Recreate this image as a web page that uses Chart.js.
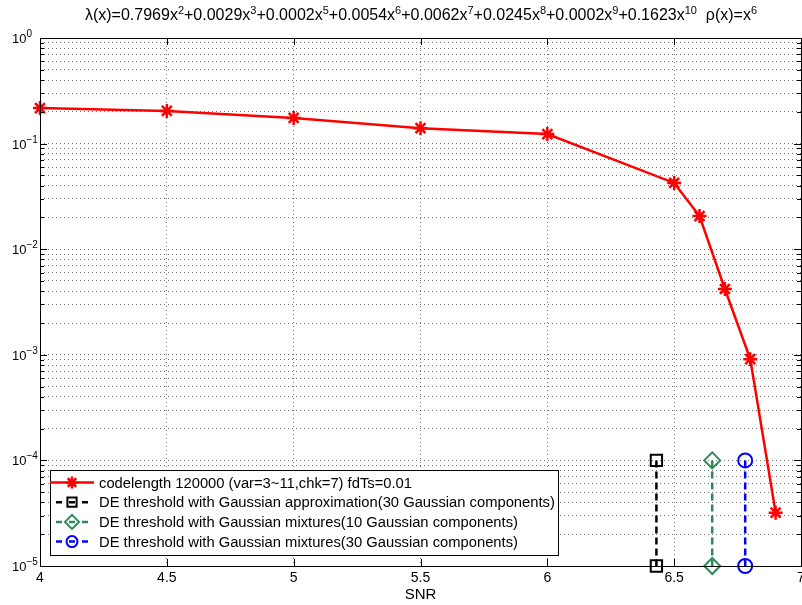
<!DOCTYPE html>
<html>
<head>
<meta charset="utf-8">
<script src="https://cdn.jsdelivr.net/npm/chart.js@4/dist/chart.umd.min.js"></script>
<style>
html, body { margin: 0; padding: 0; background: #fff; overflow: hidden; }
canvas { display: block; }
</style>
</head>
<body>
<canvas id="myChart" width="802" height="605"></canvas>
<script>
// data
var snr = [4, 4.5, 5, 5.5, 6, 6.5, 6.6, 6.7, 6.8, 6.9];
var ber = [0.217, 0.204, 0.175, 0.14, 0.123, 0.0424, 0.0206, 0.0042, 0.00091, 0.000032];
var thrGA30 = 6.43;
var thrGM10 = 6.65;
var thrGM30 = 6.78;
var thrY = [1e-4, 1e-5];
var xTicks = [4, 4.5, 5, 5.5, 6, 6.5, 7];
var yDecades = [-5, -4, -3, -2, -1, 0];
var lambdaCoef = ["0.7969", "0.0029", "0.0002", "0.0054", "0.0062", "0.0245", "0.0002", "0.1623"];
var lambdaDeg = [2, 3, 5, 6, 7, 8, 9, 10];
var rhoDeg = 6;
var seriesLabels = [
  "codelength 120000 (var=3~11,chk=7) fdTs=0.01",
  "DE threshold with Gaussian approximation(30 Gaussian components)",
  "DE threshold with Gaussian mixtures(10 Gaussian components)",
  "DE threshold with Gaussian mixtures(30 Gaussian components)"
];

var FONT = "'Liberation Sans', Arial, Helvetica, sans-serif";
var GREEN = "#2e8b57";
var PLOT_RIGHT = 801;

function vline(x) {
  return thrY.map(function (y) { return { x: x, y: y }; });
}

// draw text with superscripts, parts = [[text, isSup], ...]
function drawRich(ctx, parts, x, y, align, size, supSize, rise) {
  var w = 0;
  parts.forEach(function (p) {
    ctx.font = (p[1] ? supSize : size) + "px " + FONT;
    w += ctx.measureText(p[0]).width;
  });
  var cx = align === "center" ? x - w / 2 : x;
  ctx.textAlign = "left";
  ctx.textBaseline = "alphabetic";
  parts.forEach(function (p) {
    ctx.font = (p[1] ? supSize : size) + "px " + FONT;
    ctx.fillText(p[0], cx, p[1] ? y - rise : y);
    cx += ctx.measureText(p[0]).width;
  });
}

var matlabFrame = {
  id: "matlabFrame",
  // stretch plot area to the right edge like the matlab figure
  afterLayout: function (chart) {
    var a = chart.chartArea, xs = chart.scales.x;
    a.right = PLOT_RIGHT;
    a.width = a.right - a.left;
    xs.right = PLOT_RIGHT;
    xs.width = xs.right - xs.left;
    xs.configure();
  },
  afterDraw: function (chart) {
    var ctx = chart.ctx;
    var a = chart.chartArea;
    var xs = chart.scales.x, ys = chart.scales.y;
    ctx.save();
    ctx.fillStyle = "#000";
    ctx.strokeStyle = "#000";
    ctx.lineWidth = 1;

    // axes box
    ctx.strokeRect(Math.round(a.left) + 0.5, Math.round(a.top) + 0.5,
      Math.round(a.right - a.left), Math.round(a.bottom - a.top));

    // inward ticks
    ctx.beginPath();
    xs.ticks.forEach(function (t) {
      var px = Math.round(xs.getPixelForValue(t.value)) + 0.5;
      ctx.moveTo(px, a.bottom); ctx.lineTo(px, a.bottom - 7);
      ctx.moveTo(px, a.top); ctx.lineTo(px, a.top + 7);
    });
    ys.ticks.forEach(function (t) {
      var py = Math.round(ys.getPixelForValue(t.value)) + 0.5;
      var major = Math.abs(Math.log10(t.value) - Math.round(Math.log10(t.value))) < 1e-6;
      var len = major ? 7 : 4;
      ctx.moveTo(a.left, py); ctx.lineTo(a.left + len, py);
      ctx.moveTo(a.right, py); ctx.lineTo(a.right - len, py);
    });
    ctx.stroke();

    // x labels
    ctx.font = "14px " + FONT;
    ctx.textAlign = "center";
    ctx.textBaseline = "middle";
    xTicks.forEach(function (v) {
      ctx.fillText(String(v), xs.getPixelForValue(v), a.bottom + 12);
    });

    // y labels 10^n
    yDecades.forEach(function (d) {
      var py = ys.getPixelForValue(Math.pow(10, d));
      drawRich(ctx, [["10", false], [d < 0 ? "\u2212" + (-d) : String(d), true]], 12, py + 5, "left", 13, 10, 6);
    });

    // title
    var parts = [["\u03bb(x)=", false]];
    lambdaCoef.forEach(function (c, i) {
      parts.push([(i > 0 ? "+" : "") + c + "x", false]);
      parts.push([String(lambdaDeg[i]), true]);
    });
    parts.push(["  \u03c1(x)=x", false]);
    parts.push([String(rhoDeg), true]);
    drawRich(ctx, parts, 421, 20, "center", 16, 11, 6);

    // legend
    var bx = 50.5, by = 470.5, bw = 508, bh = 85;
    ctx.fillStyle = "#fff";
    ctx.fillRect(bx, by, bw, bh);
    ctx.strokeStyle = "#000";
    ctx.setLineDash([]);
    ctx.strokeRect(bx, by, bw, bh);
    chart.data.datasets.forEach(function (ds, i) {
      var ry = 482.5 + i * 19.7;
      ctx.strokeStyle = ds.borderColor;
      ctx.lineWidth = ds.borderWidth;
      ctx.beginPath();
      if (ds.borderDash && ds.borderDash.length) {
        ctx.setLineDash([6, 7]);
        ctx.moveTo(56, ry); ctx.lineTo(89, ry);
      } else {
        ctx.setLineDash([]);
        ctx.moveTo(50, ry); ctx.lineTo(94, ry);
      }
      ctx.stroke();
      ctx.setLineDash([]);
      ctx.fillStyle = "rgba(0,0,0,0)";
      ctx.lineWidth = ds.pointBorderWidth;
      Chart.helpers.drawPoint(ctx, {
        pointStyle: ds.pointStyle,
        radius: ds.legendRadius,
        rotation: 0,
        borderWidth: ds.pointBorderWidth
      }, 72, ry);
      ctx.fillStyle = "#000";
      ctx.font = "14.75px " + FONT;
      ctx.textAlign = "left";
      ctx.textBaseline = "middle";
      ctx.fillText(ds.label, 99, ry + 1);
    });
    ctx.restore();
  }
};

new Chart("myChart", {
  type: "line",
  data: {
    datasets: [{
      label: seriesLabels[0],
      data: snr.map(function (x, i) { return { x: x, y: ber[i] }; }),
      borderColor: "#ff0000",
      backgroundColor: "#ff0000",
      borderWidth: 2.5,
      pointStyle: "star",
      pointRadius: 7,
      pointBorderWidth: 2.5,
      pointBorderColor: "#ff0000",
      legendRadius: 6,
      clip: false
    }, {
      label: seriesLabels[1],
      data: vline(thrGA30),
      borderColor: "#000",
      borderWidth: 2.5,
      borderDash: [7, 4],
      pointStyle: "rect",
      pointRadius: 8,
      pointBorderWidth: 2,
      pointBorderColor: "#000",
      pointBackgroundColor: "rgba(0,0,0,0)",
      legendRadius: 6.5,
      clip: false
    }, {
      label: seriesLabels[2],
      data: vline(thrGM10),
      borderColor: GREEN,
      borderWidth: 2.5,
      borderDash: [7, 4],
      pointStyle: "rectRot",
      pointRadius: 8,
      pointBorderWidth: 2,
      pointBorderColor: GREEN,
      pointBackgroundColor: "rgba(0,0,0,0)",
      legendRadius: 7,
      clip: false
    }, {
      label: seriesLabels[3],
      data: vline(thrGM30),
      borderColor: "#0000ff",
      borderWidth: 2.5,
      borderDash: [7, 4],
      pointStyle: "circle",
      pointRadius: 7,
      pointBorderWidth: 2,
      pointBorderColor: "#0000ff",
      pointBackgroundColor: "rgba(0,0,0,0)",
      legendRadius: 5.5,
      clip: false
    }]
  },
  options: {
    responsive: false,
    animation: false,
    devicePixelRatio: 1,
    layout: { padding: { top: 38, right: 4, left: 0, bottom: 0 } },
    plugins: {
      legend: { display: false },
      tooltip: { enabled: false }
    },
    scales: {
      x: {
        type: "linear",
        min: 4,
        max: 7,
        afterBuildTicks: function (s) {
          s.ticks = xTicks.map(function (v) { return { value: v }; });
        },
        afterFit: function (s) { s.height = 39; },
        ticks: { display: false },
        grid: { color: "rgba(0,0,0,0.55)", drawTicks: false, lineWidth: 1 },
        border: { display: false, dash: [1, 3] },
        title: {
          display: true,
          text: "SNR",
          color: "#000",
          font: { family: FONT, size: 15 },
          padding: { top: 0, bottom: 1 }
        }
      },
      y: {
        type: "logarithmic",
        min: 1e-5,
        max: 1,
        afterBuildTicks: function (s) {
          var t = [];
          for (var d = -5; d < 0; d++) {
            for (var m = 1; m < 10; m++) t.push({ value: m * Math.pow(10, d) });
          }
          t.push({ value: 1 });
          s.ticks = t;
        },
        afterFit: function (s) { s.width = 40; },
        ticks: { display: false },
        grid: { color: "rgba(0,0,0,0.55)", drawTicks: false, lineWidth: 1 },
        border: { display: false, dash: [1, 3] }
      }
    }
  },
  plugins: [matlabFrame]
});
</script>
</body>
</html>
